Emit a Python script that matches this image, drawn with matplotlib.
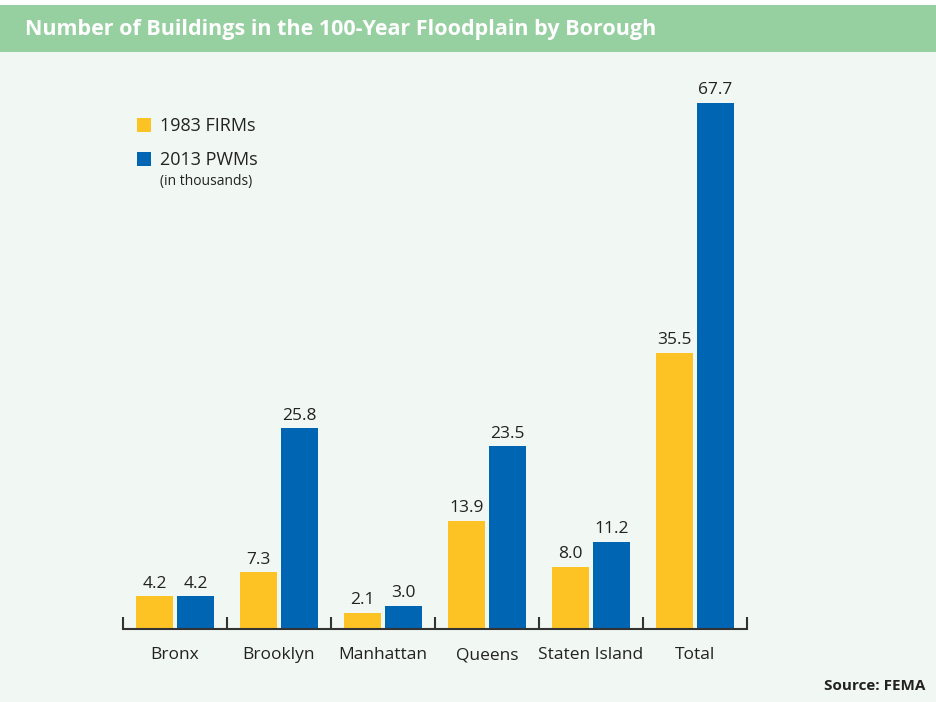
import matplotlib
matplotlib.use("Agg")
import matplotlib.pyplot as plt
import matplotlib.patches as mpatches
import numpy as np

# data (thousands of buildings)
boroughs = ["Bronx", "Brooklyn", "Manhattan", "Queens", "Staten Island", "Total"]
firms_1983 = [4.2, 7.3, 2.1, 13.9, 8.0, 35.5]
pwms_2013 = [4.2, 25.8, 3.0, 23.5, 11.2, 67.7]

yellow = "#FDC325"
blue = "#0066B3"
green = "#96CFA0"
bg = "#F1F7F3"
dark = "#222222"

plt.rcParams["font.family"] = ["Open Sans", "DejaVu Sans"]

fig = plt.figure(figsize=(9.37, 7.02), dpi=100)
fig.patch.set_facecolor(bg)

# header band
fig.patches.append(mpatches.Rectangle((0, 1 - 52 / 702), 1, 47 / 702, transform=fig.transFigure,
                                      facecolor=green, edgecolor="none", zorder=0))
fig.patches.append(mpatches.Rectangle((0, 1 - 5 / 702), 1, 5 / 702, transform=fig.transFigure,
                                      facecolor="white", edgecolor="none", zorder=0))
fig.text(25 / 937, 1 - 29 / 702, "Number of Buildings in the 100-Year Floodplain by Borough",
         color="white", fontsize=15.5, fontweight="bold", va="center", ha="left")

ax = fig.add_axes([123 / 937, (702 - 629) / 702, 624 / 937, 544 / 702])
ax.set_facecolor(bg)

x = np.arange(len(boroughs))
w = 0.365
off = 0.197
b1 = ax.bar(x - off, firms_1983, w, color=yellow)
b2 = ax.bar(x + off, pwms_2013, w, color=blue)

for bars, vals in ((b1, firms_1983), (b2, pwms_2013)):
    for r, v in zip(bars, vals):
        ax.text(r.get_x() + r.get_width() / 2, v + 0.6, f"{v:.1f}", ha="center", va="bottom",
                fontsize=12.5, color=dark)

ax.set_xlim(-0.5, len(boroughs) - 0.5)
ax.set_ylim(0, 70)
for s in ("top", "right", "left"):
    ax.spines[s].set_visible(False)
ax.spines["bottom"].set_color("#333333")
ax.spines["bottom"].set_linewidth(1.5)
ax.set_yticks([])
ax.set_xticks(x)
ax.set_xticklabels(boroughs, fontsize=12.5, color=dark)
ax.tick_params(axis="x", which="major", length=0, pad=13)
ax.set_xticks(np.arange(-0.5, len(boroughs)), minor=True)
ax.tick_params(axis="x", which="minor", direction="in", length=9, width=1.5, color="#333333")

# legend
fig.patches.append(mpatches.Rectangle((137 / 937, 1 - 132 / 702), 14 / 937, 14 / 702,
                                      transform=fig.transFigure, facecolor=yellow, edgecolor="none"))
fig.patches.append(mpatches.Rectangle((137 / 937, 1 - 166 / 702), 14 / 937, 14 / 702,
                                      transform=fig.transFigure, facecolor=blue, edgecolor="none"))
fig.text(160 / 937, 1 - 126 / 702, "1983 FIRMs", fontsize=13, color=dark, va="center")
fig.text(160 / 937, 1 - 160 / 702, "2013 PWMs", fontsize=13, color=dark, va="center")
fig.text(160 / 937, 1 - 181 / 702, "(in thousands)", fontsize=10, color=dark, va="center")

fig.text(925 / 937, 1 - 686 / 702, "Source: FEMA", fontsize=11, fontweight="bold",
         color=dark, ha="right", va="center")

fig.savefig("out.png", dpi=100, facecolor=bg)
